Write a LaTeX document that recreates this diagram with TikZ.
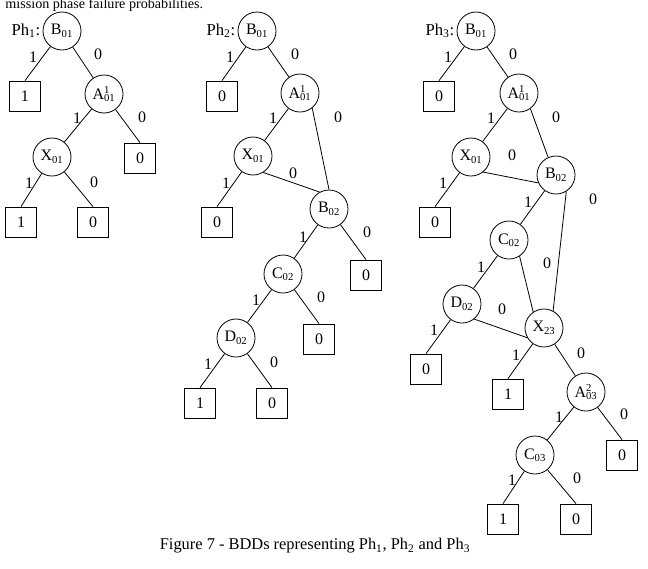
\documentclass[tikz,border=0pt]{standalone}
\usepackage{fontspec}
\setmainfont{Liberation Serif}
\usepackage{tikz}
\usetikzlibrary{positioning}
\newcommand\lo[1]{\textsubscript{#1}}
\newcommand\hilo[2]{\rlap{\textsuperscript{#1}}\textsubscript{#2}}
\tikzset{
  var/.style={draw,circle,minimum size=28.5pt,inner sep=0pt,font=\fontsize{12}{14}\selectfont},
  leaf/.style={draw,minimum width=23.25pt,minimum height=22.5pt,inner sep=0pt,font=\fontsize{12}{14}\selectfont},
  lbl/.style={inner sep=0pt,font=\fontsize{12}{14}\selectfont},
  phase/.style={anchor=east,inner sep=1pt,font=\fontsize{12.5}{14}\selectfont},
  arc/.style={line width=0.6pt}
}
\begin{document}
\begin{tikzpicture}[x=0.75pt,y=-0.75pt,every path/.style={arc}]
  \useasboundingbox (0,0) rectangle (648,568);
  \node[lbl,anchor=base west,font=\fontsize{10.6}{13}\selectfont] (intro) at (5,8) {mission phase failure probabilities.};
  % Ph1
  \node[phase] (ph1) at (42,31) {Ph\lo{1}:};
  \node[var] (aB) at (62,31) {B\lo{01}};
  \node[leaf] (aT1) at (25,96) {1};
  \node[var] (aA) at (104,94) {A\hilo{1}{01}};
  \node[var] (aX) at (52,157) {X\lo{01}};
  \node[leaf] (aT2) at (140,158) {0};
  \node[leaf] (aT3) at (21,222) {1};
  \node[leaf] (aT4) at (93,222) {0};
  \draw (aB) -- (aT1.north) node[lbl] at (33,57) {1};
  \draw (aB) -- (aA) node[lbl] at (98,54) {0};
  \draw (aA) -- (aX) node[lbl] at (77,118) {1};
  \draw (aA) -- (aT2.north) node[lbl] at (142,117) {0};
  \draw (aX) -- (aT3.north) node[lbl] at (29,183) {1};
  \draw (aX) -- (aT4.north) node[lbl] at (94,182) {0};
  % Ph2
  \node[phase] (ph2) at (237,31) {Ph\lo{2}:};
  \node[var] (bB) at (257,31) {B\lo{01}};
  \node[leaf] (bT1) at (222,96) {0};
  \node[var] (bA) at (300,93) {A\hilo{1}{01}};
  \node[var] (bX) at (253,156) {X\lo{01}};
  \node[leaf] (bT2) at (217,222) {0};
  \node[var] (bB2) at (329,209) {B\lo{02}};
  \node[leaf] (bT3) at (366,275) {0};
  \node[var] (bC) at (283,274) {C\lo{02}};
  \node[leaf] (bT4) at (319,339) {0};
  \node[var] (bD) at (236,338) {D\lo{02}};
  \node[leaf] (bT5) at (200,403) {1};
  \node[leaf] (bT6) at (272,403) {0};
  \draw (bB) -- (bT1.north) node[lbl] at (230,57) {1};
  \draw (bB) -- (bA) node[lbl] at (295,54) {0};
  \draw (bA) -- (bX) node[lbl] at (273,118) {1};
  \draw (bA.-51) -- (bB2.90) node[lbl] at (338,117) {0};
  \draw (bX) -- (bT2.north) node[lbl] at (226,183) {1};
  \draw (bX.-58) -- (bB2.119) node[lbl] at (293,173) {0};
  \draw (bB2) -- (bC) node[lbl] at (303,237) {1};
  \draw (bB2) -- (bT3.north) node[lbl] at (367,232) {0};
  \draw (bC) -- (bD) node[lbl] at (256,300) {1};
  \draw (bC) -- (bT4.north) node[lbl] at (321,297) {0};
  \draw (bD) -- (bT5.north) node[lbl] at (208,364) {1};
  \draw (bD) -- (bT6.north) node[lbl] at (274,362) {0};
  % Ph3
  \node[phase] (ph3) at (456,31) {Ph\lo{3}:};
  \node[var] (cB) at (476,31) {B\lo{01}};
  \node[leaf] (cT1) at (439,96) {0};
  \node[var] (cA) at (519,93) {A\hilo{1}{01}};
  \node[var] (cX) at (471,157) {X\lo{01}};
  \node[leaf] (cT2) at (435,222) {0};
  \node[var] (cB2) at (556,175) {B\lo{02}};
  \node[var] (cC) at (509,240) {C\lo{02}};
  \node[var] (cD) at (462,304) {D\lo{02}};
  \node[var] (cX2) at (544,328) {X\lo{23}};
  \node[leaf] (cT3) at (426,369) {0};
  \node[leaf] (cT4) at (508,394) {1};
  \node[var] (cA3) at (586,392) {A\hilo{2}{03}};
  \node[leaf] (cT5) at (622,455) {0};
  \node[var] (cC3) at (535,455) {C\lo{03}};
  \node[leaf] (cT6) at (503,519) {1};
  \node[leaf] (cT7) at (576,519) {0};
  \draw (cB) -- (cT1.north) node[lbl] at (448,57) {1};
  \draw (cB) -- (cA) node[lbl] at (513,54) {0};
  \draw (cA) -- (cX) node[lbl] at (491,118) {1};
  \draw (cA.-54) -- (cB2.114) node[lbl] at (556,117) {0};
  \draw (cX) -- (cT2.north) node[lbl] at (443,183) {1};
  \draw (cX.-51) -- (cB2.204) node[lbl] at (512,155) {0};
  \draw (cB2) -- (cC) node[lbl] at (528,202) {1};
  \draw (cB2.-58) -- (cX2.62) node[lbl] at (593,199) {0};
  \draw (cC) -- (cD) node[lbl] at (481,267) {1};
  \draw (cC.-57) -- (cX2.124) node[lbl] at (547,263) {0};
  \draw (cD) -- (cT3.north) node[lbl] at (434,330) {1};
  \draw (cD.-51) -- (cX2.210) node[lbl] at (502,309) {0};
  \draw (cX2) -- (cT4.north) node[lbl] at (516,355) {1};
  \draw (cX2) -- (cA3) node[lbl] at (581,353) {0};
  \draw (cA3) -- (cC3) node[lbl] at (559,417) {1};
  \draw (cA3) -- (cT5.north) node[lbl] at (624,414) {0};
  \draw (cC3) -- (cT6.north) node[lbl] at (512,480) {1};
  \draw (cC3) -- (cT7.north) node[lbl] at (577,478) {0};
  % caption
  \node[lbl,font=\fontsize{12.3}{14}\selectfont] (cap) at (315,546) {Figure 7 - BDDs representing Ph\lo{1}, Ph\lo{2} and Ph\lo{3}};
\end{tikzpicture}
\end{document}
